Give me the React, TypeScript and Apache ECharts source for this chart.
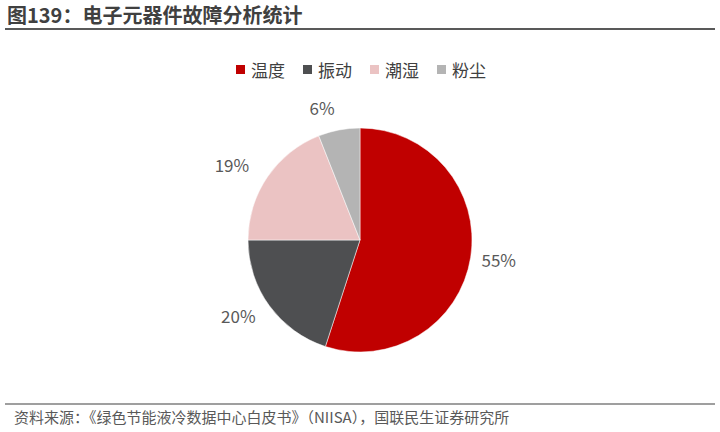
import React, { useEffect, useRef } from "react";
import * as echarts from "echarts";

const categories = ["温度", "振动", "潮湿", "粉尘"];
const values = [55, 20, 19, 6];
const colors = ["#C00000", "#4E4F51", "#EBC3C3", "#B4B4B4"];
const labelLengths = [11, 17, 22, 23];
const titleText = "图139：电子元器件故障分析统计";
const sourceText = "资料来源：《绿色节能液冷数据中心白皮书》（NIISA），国联民生证券研究所";

const FONT = "'Noto Sans CJK SC', 'Noto Sans', sans-serif";

export default function App() {
  const ref = useRef<HTMLDivElement>(null);
  useEffect(() => {
    if (!ref.current) return;
    const chart = echarts.init(ref.current, null, { renderer: "svg" });
    chart.setOption({
      animation: false,
      backgroundColor: "#ffffff",
      textStyle: { fontFamily: FONT },
      legend: {
        data: categories,
        top: 56,
        left: "center",
        itemWidth: 11,
        itemHeight: 11,
        itemGap: 16,
        icon: "rect",
        textStyle: { fontSize: 17, color: "#404040", fontFamily: FONT },
      },
      graphic: [
        {
          type: "text",
          left: 7,
          top: 4,
          style: {
            text: titleText,
            fontSize: 20,
            fontWeight: "bold",
            fill: "#404040",
            fontFamily: FONT,
          },
        },
        {
          type: "line",
          shape: { x1: 5, y1: 29, x2: 715, y2: 29 },
          style: { stroke: "#595959", lineWidth: 2 },
        },
        {
          type: "line",
          shape: { x1: 5, y1: 404, x2: 715, y2: 404 },
          style: { stroke: "#7F7F7F", lineWidth: 1.5 },
        },
        {
          type: "text",
          left: 14,
          top: 409,
          style: {
            text: sourceText,
            fontSize: 15,
            fill: "#595959",
            fontFamily: FONT,
          },
        },
      ],
      series: [
        {
          type: "pie",
          center: [360, 240],
          radius: 112,
          startAngle: 90,
          clockwise: true,
          data: categories.map((c, i) => ({
            name: c,
            value: values[i],
            itemStyle: { color: colors[i] },
            labelLine: { show: false, length: labelLengths[i], length2: 0 },
          })),
          itemStyle: { borderColor: "#ffffff", borderWidth: 0.5 },
          label: {
            show: true,
            position: "outside",
            formatter: "{c}%",
            fontSize: 17,
            color: "#595959",
            fontFamily: FONT,
            distanceToLabelLine: 0,
          },
          labelLine: { show: false, length: 15, length2: 0 },
          avoidLabelOverlap: false,
        },
      ],
    });
    return () => chart.dispose();
  }, []);
  return (
    <div
      ref={ref}
      style={{ position: "fixed", left: 0, top: 0, width: 720, height: 432 }}
    />
  );
}
